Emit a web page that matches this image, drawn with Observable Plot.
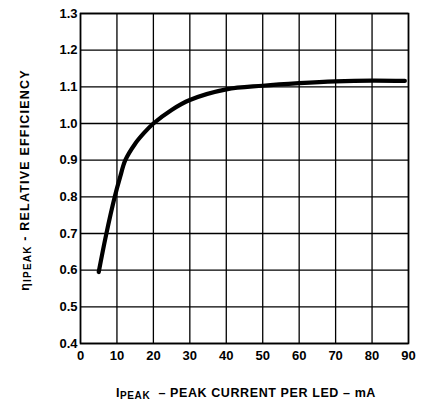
<!DOCTYPE html>
<html>
<head>
<meta charset="utf-8">
<script src="https://cdn.jsdelivr.net/npm/d3@7"></script>
<script src="https://cdn.jsdelivr.net/npm/@observablehq/plot@0.6"></script>
<style>
  html, body { margin: 0; padding: 0; background: #fff; }
  svg { font-family: "Liberation Sans", Arial, sans-serif; }
</style>
</head>
<body>
<div id="chart"></div>
<script>
const currentMA = [5, 7, 9.4, 10.9, 12.3, 15, 17.5, 20, 25, 30, 40, 50, 60, 70, 80, 89];
const efficiency = [0.595, 0.695, 0.80, 0.855, 0.90, 0.945, 0.975, 1.0, 1.037, 1.064, 1.093, 1.103, 1.110, 1.115, 1.117, 1.116];
const xTicks = [0, 10, 20, 30, 40, 50, 60, 70, 80, 90];
const yTicks = [0.4, 0.5, 0.6, 0.7, 0.8, 0.9, 1.0, 1.1, 1.2, 1.3];

const data = currentMA.map((x, i) => ({x, y: efficiency[i]}));

const plot = Plot.plot({
  width: 427,
  height: 401,
  marginLeft: 80,
  marginRight: 19,
  marginTop: 13,
  marginBottom: 58,
  style: {fontFamily: "Liberation Sans, Arial, sans-serif", fontSize: "13px", fontWeight: "bold", background: "#fff", color: "#000"},
  x: {domain: [0, 90], ticks: xTicks, label: null},
  y: {domain: [0.4, 1.3], ticks: yTicks, label: null},
  marks: [
    Plot.gridX(xTicks, {stroke: "#000", strokeOpacity: 1, strokeWidth: 1.3}),
    Plot.gridY(yTicks, {stroke: "#000", strokeOpacity: 1, strokeWidth: 1.3}),
    Plot.frame({stroke: "#000", strokeWidth: 1.6}),
    Plot.axisX(xTicks, {tickSize: 0, tickPadding: 7, tickFormat: d => String(d), fontSize: 13, fontWeight: "bold"}),
    Plot.axisY(yTicks, {tickSize: 0, tickPadding: 3, tickFormat: d3.format(".1f"), fontSize: 13, fontWeight: "bold"}),
    Plot.line(data, {x: "x", y: "y", curve: "catmull-rom", stroke: "#000", strokeWidth: 4.2, strokeLinecap: "round"})
  ]
});

const svg = d3.select(plot);
// X axis label with subscript
const xl = svg.append("text")
  .attr("x", 246).attr("y", 397)
  .attr("text-anchor", "middle")
  .attr("font-size", 12.5).attr("font-weight", "bold").attr("fill", "#000")
  .attr("letter-spacing", 0.6);
xl.append("tspan").text("I");
xl.append("tspan").attr("font-size", 10).attr("dy", 2).text("PEAK");
xl.append("tspan").attr("dy", -2).text("  \u2013 PEAK CURRENT PER LED \u2013 mA");

// Y axis label with subscript
const yl = svg.append("text")
  .attr("transform", "translate(29,180) rotate(-90)")
  .attr("text-anchor", "middle")
  .attr("font-size", 12.5).attr("font-weight", "bold").attr("fill", "#000")
  .attr("letter-spacing", 1.2);
yl.append("tspan").text("\u03B7");
yl.append("tspan").attr("font-size", 10).attr("dy", 2).text("IPEAK");
yl.append("tspan").attr("dy", -2).text(" - RELATIVE EFFICIENCY");

document.getElementById("chart").appendChild(plot);
</script>
</body>
</html>
